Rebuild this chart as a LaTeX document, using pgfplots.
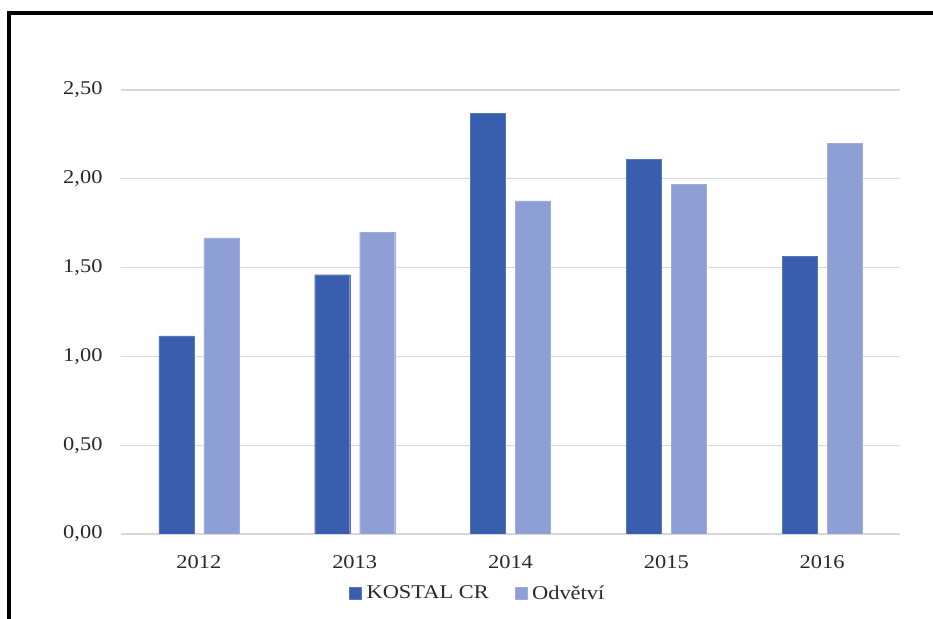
\documentclass[border=0pt]{standalone}
\usepackage{fontspec}
\setmainfont[FakeStretch=1.15]{Liberation Serif}
\usepackage{pgfplots}
\pgfplotsset{compat=1.18}
\definecolor{darkbar}{HTML}{3A5EAE}
\definecolor{lightbar}{HTML}{8E9FD5}
\definecolor{txt}{HTML}{2A2A2A}
\definecolor{gridc}{HTML}{D9D9D9}
\begin{document}
\begin{tikzpicture}
\useasboundingbox (0,0) rectangle (933bp,619bp);
\fill[white] (0,0) rectangle (933bp,619bp);
\draw[line width=3.4bp,black] (9bp,0) -- (9bp,606bp) -- (933bp,606bp);
\begin{axis}[
  at={(121bp,85bp)}, anchor=south west,
  scale only axis, width=779bp, height=444bp,
  xmin=-0.5, xmax=4.5, ymin=0, ymax=2.5,
  axis line style={draw=none},
  axis x line*=bottom,
  ytick={0,0.5,1,1.5,2,2.5},
  yticklabels={{0,00},{0,50},{1,00},{1,50},{2,00},{2,50}},
  xtick={0,1,2,3,4},
  xticklabels={2012,2013,2014,2015,2016},
  major tick length=0pt,
  ymajorgrids, grid style={gridc, line width=1.2bp},
  every tick label/.append style={font=\fontsize{19.5bp}{21bp}\selectfont, text=txt},
  yticklabel style={xshift=-15bp},
  xticklabel style={yshift=-18bp},
  ybar, bar width=35bp,
  legend style={at={(0.458,-0.133)}, anchor=center, draw=none, fill=none,
    legend columns=2, font=\fontsize{19.5bp}{21bp}\selectfont, text=txt,
    /tikz/every even column/.append style={column sep=24bp}},
  legend image code/.code={\fill[#1] (0bp,-6bp) rectangle (12bp,6bp); \path (15bp,0bp);},
]
\addplot[fill=darkbar, draw=darkbar!85!white, bar shift=-22.5bp] coordinates {(0,1.115) (1,1.46) (2,2.37) (3,2.11) (4,1.565)};
\addplot[fill=lightbar, draw=lightbar!85!white, bar shift=22.5bp] coordinates {(0,1.667) (1,1.70) (2,1.875) (3,1.97) (4,2.20)};
\legend{KOSTAL CR, Odvětví}
\end{axis}
\end{tikzpicture}
\end{document}
